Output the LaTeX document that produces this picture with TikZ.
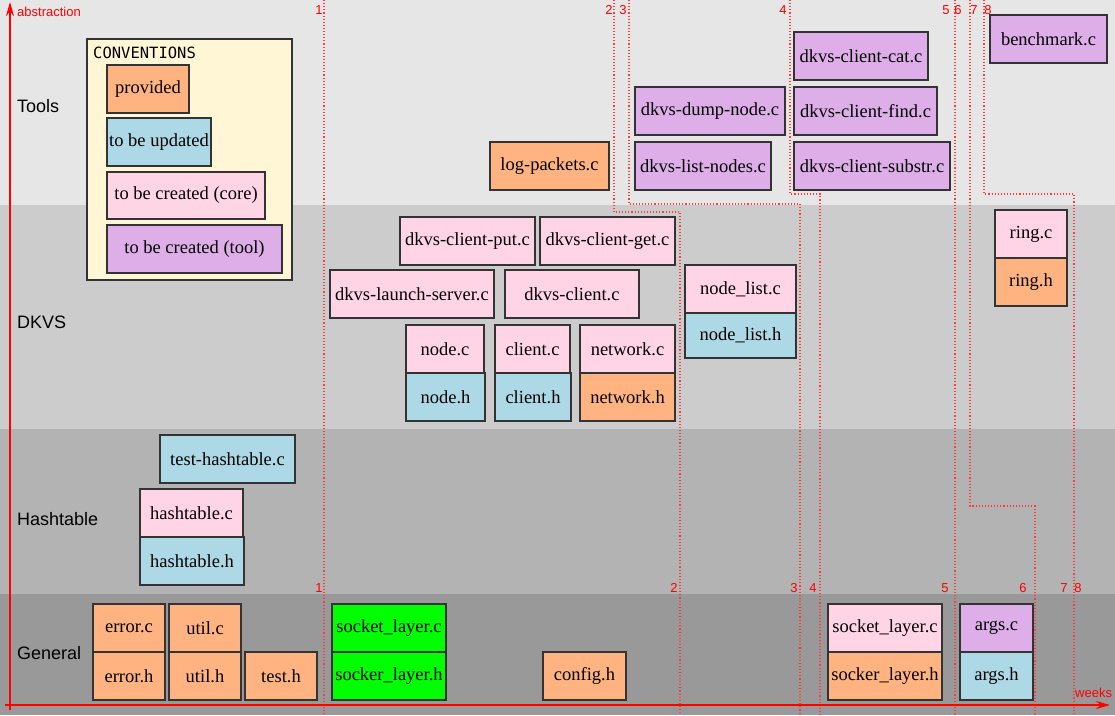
\documentclass[tikz,border=0pt]{standalone}
\usepackage{fontspec}
\setmainfont{Liberation Serif}
\newfontfamily\sansfont{Liberation Sans}
\newfontfamily\convfont{DejaVu Sans Mono}
\usetikzlibrary{arrows.meta}
\definecolor{provcol}{HTML}{FFB380}
\definecolor{updcol}{HTML}{ADD8E6}
\definecolor{corecol}{HTML}{FFD5E5}
\definecolor{toolcol}{HTML}{DDAEE8}
\definecolor{newcol}{HTML}{00FF00}
\definecolor{convcol}{HTML}{FFF6D5}
\definecolor{boxline}{HTML}{333333}
\definecolor{weekcol}{HTML}{FF3B3B}
\definecolor{toolsband}{HTML}{E6E6E6}
\definecolor{dkvsband}{HTML}{CCCCCC}
\definecolor{hashband}{HTML}{B3B3B3}
\definecolor{generalband}{HTML}{999999}
\begin{document}
\begin{tikzpicture}[x=1pt,y=-1pt,
  file/.style={draw=boxline,line width=1.4pt,inner sep=0pt,minimum height=48,font=\fontsize{18.5}{20}\selectfont},
  provfile/.style={file,fill=provcol},
  updfile/.style={file,fill=updcol},
  corefile/.style={file,fill=corecol},
  toolfile/.style={file,fill=toolcol},
  newfile/.style={file,fill=newcol},
  week/.style={draw=weekcol,dotted,line width=1.1pt},
  weeknum/.style={text=red,inner sep=0pt,font=\sansfont\fontsize{13}{14}\selectfont},
  layer/.style={anchor=west,inner sep=0pt,font=\sansfont\fontsize{18}{20}\selectfont},
  axis/.style={draw=red,line width=2pt,-{Stealth[length=14,width=8]}}]
  \useasboundingbox (0,0) rectangle (1115,715);
  % layers
  \fill[toolsband] (0,0) rectangle (1115,205);
  \fill[dkvsband] (0,205) rectangle (1115,429);
  \fill[hashband] (0,429) rectangle (1115,594);
  \fill[generalband] (0,594) rectangle (1115,715);
  \node (Tools) at (17,106) [layer] {Tools};
  \node (DKVS) at (17,322) [layer] {DKVS};
  \node (Hashtable) at (17,519) [layer] {Hashtable};
  \node (General) at (17,653) [layer] {General};
  % weeks
  \coordinate (w1top) at (324,0);   \coordinate (w1bot) at (324,715);
  \coordinate (w2top) at (614,0);   \coordinate (w2bot) at (680,715);
  \coordinate (w3top) at (629,0);   \coordinate (w3bot) at (800,715);
  \coordinate (w4top) at (790,0);   \coordinate (w4bot) at (820,715);
  \coordinate (w5top) at (955,0);   \coordinate (w5bot) at (955,715);
  \coordinate (w6top) at (970,0);   \coordinate (w6bot) at (1035,715);
  \coordinate (w7top) at (984,0);   \coordinate (w7bot) at (1074,715);
  \draw[week] (w1top) -- (w1bot);
  \draw[week] (w2top) -- ++(0,212) -| (w2bot);
  \draw[week] (w3top) -- ++(0,204) -| (w3bot);
  \draw[week] (w4top) -- ++(0,194) -| (w4bot);
  \draw[week] (w5top) -- (w5bot);
  \draw[week] (w6top) -- ++(0,506) -| (w6bot);
  \draw[week] (w7top) -- ++(0,194) -| (w7bot);
  \node (t1) at (319,10) [weeknum] {1};
  \node (t2) at (609,10) [weeknum] {2};
  \node (t3) at (623,10) [weeknum] {3};
  \node (t4) at (783,10) [weeknum] {4};
  \node (t5) at (946,10) [weeknum] {5};
  \node (t6) at (958,10) [weeknum] {6};
  \node (t7) at (974,10) [weeknum] {7};
  \node (t8) at (988,10) [weeknum] {8};
  \node (b1) at (319,588) [weeknum] {1};
  \node (b2) at (674,588) [weeknum] {2};
  \node (b3) at (794,588) [weeknum] {3};
  \node (b4) at (813,588) [weeknum] {4};
  \node (b5) at (945,588) [weeknum] {5};
  \node (b6) at (1023,588) [weeknum] {6};
  \node (b7) at (1064,588) [weeknum] {7};
  \node (b8) at (1078,588) [weeknum] {8};
  % axes
  \coordinate (ybot) at (10,710);  \coordinate (ytop) at (10,2);
  \coordinate (xleft) at (5,705);  \coordinate (xright) at (1110,705);
  \draw[axis] (ybot) -- (ytop);
  \draw[axis] (xleft) -- (xright);
  \node (abstraction) at (17,12) [weeknum,anchor=west] {abstraction};
  \node (weeks) at (1075,693) [weeknum,anchor=west] {weeks};
  % conventions
  \node (Conventions) at (189.5,159.5) [file,fill=convcol,minimum width=205,minimum height=241] {};
  \node (ConvTitle) at (93,53) [anchor=west,inner sep=0pt,font=\convfont\fontsize{15.5}{16}\selectfont] {CONVENTIONS};
  \node (Provided) at (148,89) [provfile,minimum width=82] {provided};
  \node (Updated) at (159,142) [updfile,minimum width=104] {to be updated};
  \node (CreatedCore) at (186,195.5) [corefile,minimum width=158,minimum height=47] {to be created (core)};
  \node (CreatedTool) at (194.5,249) [toolfile,minimum width=175] {to be created (tool)};
  % tools
  \node (LogPackets) at (549.5,166) [provfile,minimum width=119] {log-packets.c};
  \node (DumpNode) at (710,111) [toolfile,minimum width=150] {dkvs-dump-node.c};
  \node (ListNodes) at (703,166) [toolfile,minimum width=136] {dkvs-list-nodes.c};
  \node (ClientCat) at (861,56) [toolfile,minimum width=134] {dkvs-client-cat.c};
  \node (ClientFind) at (865.5,111) [toolfile,minimum width=143] {dkvs-client-find.c};
  \node (ClientSubstr) at (872,166) [toolfile,minimum width=156] {dkvs-client-substr.c};
  \node (Benchmark) at (1048.5,39) [toolfile,minimum width=117] {benchmark.c};
  % dkvs
  \node (ClientPut) at (467.5,241) [corefile,minimum width=135] {dkvs-client-put.c};
  \node (ClientGet) at (607.5,241) [corefile,minimum width=135] {dkvs-client-get.c};
  \node (LaunchServer) at (412,294) [corefile,minimum width=164] {dkvs-launch-server.c};
  \node (DkvsClient) at (572,294) [corefile,minimum width=134] {dkvs-client.c};
  \node (NodeC) at (445,349) [corefile,minimum width=78] {node.c};
  \node (NodeH) at (445.5,397) [updfile,minimum width=79] {node.h};
  \node (ClientC) at (532.5,349) [corefile,minimum width=75] {client.c};
  \node (ClientH) at (533,397) [updfile,minimum width=76] {client.h};
  \node (NetworkC) at (627.5,349) [corefile,minimum width=95] {network.c};
  \node (NetworkH) at (627.5,397) [provfile,minimum width=95] {network.h};
  \node (NodeListC) at (740.5,289) [corefile,minimum width=111] {node\_list.c};
  \node (NodeListH) at (740.5,335.5) [updfile,minimum width=111,minimum height=45] {node\_list.h};
  \node (RingC) at (1031,234) [corefile,minimum width=72] {ring.c};
  \node (RingH) at (1031,282) [provfile,minimum width=72] {ring.h};
  % hashtable
  \node (TestHashtable) at (227.5,459) [updfile,minimum width=135] {test-hashtable.c};
  \node (HashtableC) at (191.5,513) [corefile,minimum width=103] {hashtable.c};
  \node (HashtableH) at (192,561) [updfile,minimum width=104] {hashtable.h};
  % general
  \node (ErrorC) at (129,628) [provfile,minimum width=72] {error.c};
  \node (ErrorH) at (129,676) [provfile,minimum width=72] {error.h};
  \node (UtilC) at (205,628) [provfile,minimum width=72] {util.c};
  \node (UtilH) at (205,676) [provfile,minimum width=72] {util.h};
  \node (TestH) at (281,676) [provfile,minimum width=72] {test.h};
  \node (SocketC) at (389,628) [newfile,minimum width=114] {socket\_layer.c};
  \node (SocketH) at (389,676) [newfile,minimum width=114] {socker\_layer.h};
  \node (ConfigH) at (584.5,676) [provfile,minimum width=83] {config.h};
  \node (SocketCnew) at (885,628) [corefile,minimum width=114] {socket\_layer.c};
  \node (SocketHnew) at (885,676) [provfile,minimum width=114] {socker\_layer.h};
  \node (ArgsC) at (996.5,628) [toolfile,minimum width=73] {args.c};
  \node (ArgsH) at (996.5,676) [updfile,minimum width=73] {args.h};
\end{tikzpicture}
\end{document}
